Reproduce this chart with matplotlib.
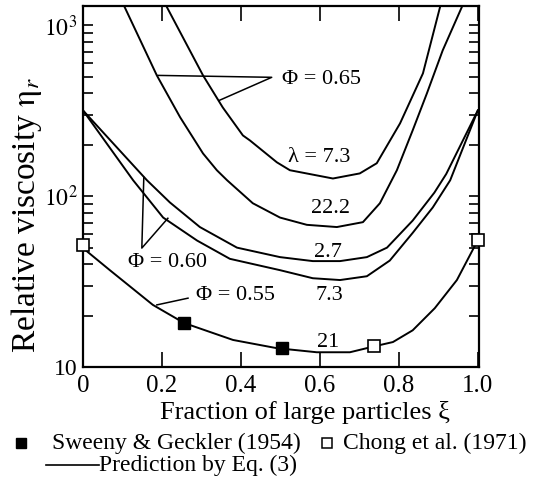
import matplotlib
matplotlib.use("Agg")
import matplotlib.pyplot as plt
from matplotlib.ticker import LogLocator, NullFormatter, FixedLocator, FixedFormatter
from matplotlib.lines import Line2D

plt.rcParams['font.family'] = ['Liberation Serif', 'DejaVu Serif']
plt.rcParams['mathtext.fontset'] = 'stix'

# ---- data ----
xi_065_l73 = [0.15, 0.213, 0.304, 0.354, 0.405, 0.423, 0.491, 0.524, 0.633, 0.701, 0.744, 0.803, 0.861, 0.904, 0.95]
eta_065_l73 = [2400, 1274, 510, 331, 227, 212, 158, 142, 127, 136, 156, 267, 524, 1274, 3300]

xi_065_l222 = [0.05, 0.106, 0.187, 0.246, 0.304, 0.339, 0.365, 0.430, 0.499, 0.567, 0.643, 0.709, 0.752, 0.795, 0.835, 0.871, 0.911, 0.959, 1.0]
eta_065_l222 = [2400, 1274, 510, 290, 178, 142, 124, 91, 75, 68, 66, 70.5, 91, 142, 243, 400, 714, 1274, 2100]

xi_060_l27 = [0, 0.162, 0.220, 0.296, 0.390, 0.499, 0.582, 0.651, 0.719, 0.770, 0.835, 0.89, 0.92, 1.0]
eta_060_l27 = [318, 124, 92, 66, 50, 44, 41.7, 41.7, 44, 50, 72, 105, 135, 318]

xi_060_l73 = [0, 0.127, 0.203, 0.289, 0.372, 0.499, 0.582, 0.651, 0.719, 0.777, 0.835, 0.886, 0.93, 1.0]
eta_060_l73 = [318, 124, 75, 55, 43, 36.9, 33.1, 32.3, 34, 42, 61, 86, 124, 318]

xi_055_l21 = [0, 0.068, 0.177, 0.256, 0.380, 0.49, 0.592, 0.676, 0.737, 0.785, 0.835, 0.891, 0.947, 1.0]
eta_055_l21 = [49.7, 36.9, 23.1, 18.1, 14.4, 12.9, 12.2, 12.2, 13.2, 14.0, 16.4, 22.1, 32.3, 55.3]

sweeny_xi = [0.256, 0.504]
sweeny_eta = [18.1, 12.9]
chong_xi = [0, 0.737, 1.0]
chong_eta = [51.6, 13.2, 55.3]

x_ticks = [0, 0.2, 0.4, 0.6, 0.8, 1.0]
x_ticklabels = ['0', '0.2', '0.4', '0.6', '0.8', '1.0']
y_ticks = [10, 100, 1000]
y_ticklabels = ['10', '$10^2$', '$10^3$']

# curve labels: (text, xi, eta)
curve_labels = [(r'λ = 7.3', 0.597, 169), ('22.2', 0.628, 85.1), ('2.7', 0.620, 47.1),
                ('7.3', 0.623, 26.4), ('21', 0.620, 14.0)]
phi_labels = [('Φ = 0.65', 0.605, 483), ('Φ = 0.60', 0.215, 41.1), ('Φ = 0.55', 0.385, 26.4)]
# leader lines (xi list, eta list)
leaders = [([0.19, 0.478, 0.345], [510, 497, 364]),
           ([0.154, 0.149, 0.215], [129, 49.7, 74.3]),
           ([0.187, 0.266], [23.1, 25.3])]

W, H = 552, 494
fig = plt.figure(figsize=(W / 100, H / 100), dpi=100)
L, R, T, B = 83, 479, 6, 367
ax = fig.add_axes([L / W, 1 - B / H, (R - L) / W, (B - T) / H])

lw = 1.4
for xs, ys in [(xi_065_l73, eta_065_l73), (xi_065_l222, eta_065_l222),
               (xi_060_l27, eta_060_l27), (xi_060_l73, eta_060_l73),
               (xi_055_l21, eta_055_l21)]:
    ax.plot(xs, ys, color='black', lw=lw)

ax.plot(sweeny_xi, sweeny_eta, 's', color='black', ms=8, clip_on=False, zorder=5)
ax.plot(chong_xi, chong_eta, 's', mfc='white', mec='black', mew=1.2, ms=8, clip_on=False, zorder=5)

for xs, ys in leaders:
    ax.plot(xs, ys, color='black', lw=1.1)

for txt, x, y in curve_labels:
    ax.text(x, y, txt, fontsize=16, ha='center', va='center')
for txt, x, y in phi_labels:
    ax.text(x, y, txt, fontsize=16, ha='center', va='center')

ax.set_yscale('log')
ax.set_xlim(0, 1.003)
ax.set_ylim(10, 1300)

ax.xaxis.set_major_locator(FixedLocator(x_ticks))
ax.xaxis.set_major_formatter(FixedFormatter(x_ticklabels))
ax.yaxis.set_major_locator(FixedLocator(y_ticks))
ax.yaxis.set_major_formatter(FixedFormatter(y_ticklabels))
ax.yaxis.set_minor_locator(LogLocator(base=10, subs=range(2, 10)))
ax.yaxis.set_minor_formatter(NullFormatter())

ax.tick_params(axis='x', which='major', direction='in', top=True, bottom=True,
               length=11, width=1.2, labelsize=18, pad=6)
ax.tick_params(axis='y', which='both', direction='in', left=True, right=True,
               length=7, width=1.2, labelsize=17, pad=4)
for s in ax.spines.values():
    s.set_linewidth(1.6)

ax.set_xlabel('Fraction of large particles ξ', fontsize=19)
ax.xaxis.label.set_va('center')
ax.xaxis.set_label_coords((305 - L) / (R - L), (B - 412) / (B - T))
ax.set_ylabel(r'Relative viscosity $\mathrm{\eta}_r$', fontsize=24)
ax.yaxis.label.set_va('center')
ax.yaxis.set_label_coords((27 - L) / (R - L), (B - 215) / (B - T))

# legend drawn below the axes in pixel space
lg = fig.add_axes([0, 0, 1, 1], zorder=-1)
lg.set_xlim(0, W)
lg.set_ylim(H, 0)
lg.axis('off')
lg.add_line(Line2D([21], [443], marker='s', color='black', ms=7, ls='none'))
lg.text(52, 443, 'Sweeny & Geckler (1954)', fontsize=17, ha='left', va='center')
lg.add_line(Line2D([327], [443], marker='s', mfc='white', mec='black', mew=1.1, ms=7, ls='none'))
lg.text(343, 443, 'Chong et al. (1971)', fontsize=17, ha='left', va='center')
lg.add_line(Line2D([46, 99], [465, 465], color='black', lw=1.2))
lg.text(99, 465, 'Prediction by Eq. (3)', fontsize=17, ha='left', va='center')

fig.savefig('out.png', dpi=100)
